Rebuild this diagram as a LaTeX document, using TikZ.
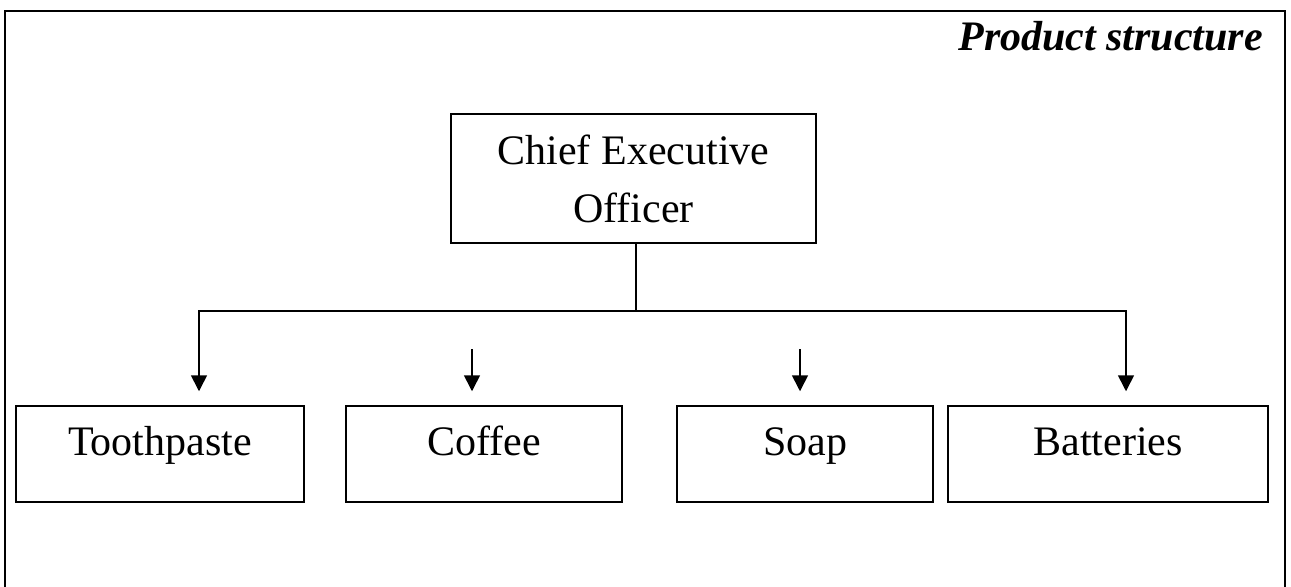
\documentclass[tikz,border=0pt]{standalone}
\usepackage{fontspec}
\setmainfont{Liberation Serif}
\usepackage{tikz}
\usetikzlibrary{arrows.meta, positioning}

\begin{document}
\begin{tikzpicture}[x=0.5pt, y=-0.5pt,
    box/.style={draw, line width=0.75pt, inner sep=0pt, align=center,
        font=\fontsize{21}{29}\selectfont},
    unit/.style={box, minimum height=48pt, text height=24.5pt, text depth=23.5pt},
    arr/.style={line width=0.8pt, -{Triangle[length=8pt, width=8pt]}, shorten >=7pt}]
    \useasboundingbox (0,0) rectangle (1291,586);
    \clip (0,0) rectangle (1291,586);

    % Khung ngoài
    \draw[line width=1pt] (5,620) -- (5,11) -- (1285,11) -- (1285,620);
    \node[anchor=base east, font=\fontsize{21}{24}\selectfont\bfseries\itshape]
        (title) at (1270,50) {Product structure};

    % Các hộp
    \node[box, minimum width=182.5pt, minimum height=64.5pt] (ceo) at (633.5,178.5)
        {Chief Executive\\Officer};
    \node[unit, minimum width=144pt] (tooth) at (160,454) {Toothpaste};
    \node[unit, minimum width=138pt] (coffee) at (484,454) {Coffee};
    \node[unit, minimum width=128pt] (soap) at (805,454) {Soap};
    \node[unit, minimum width=160pt] (batt) at (1108,454) {Batteries};

    % Đường nối
    \coordinate (stem) at (636,311);
    \coordinate (barL) at (199,311);
    \coordinate (barR) at (1126,311);
    \coordinate (cofTop) at (472,349);
    \coordinate (soapTop) at (800,349);
    \draw[line width=0.75pt] (ceo.south -| stem) -- (stem);
    \draw[arr] (stem) -- (barL) -- (barL |- tooth.north);
    \draw[arr] (stem) -- (barR) -- (barR |- batt.north);
    \draw[arr] (cofTop) -- (cofTop |- coffee.north);
    \draw[arr] (soapTop) -- (soapTop |- soap.north);

\end{tikzpicture}
\end{document}
